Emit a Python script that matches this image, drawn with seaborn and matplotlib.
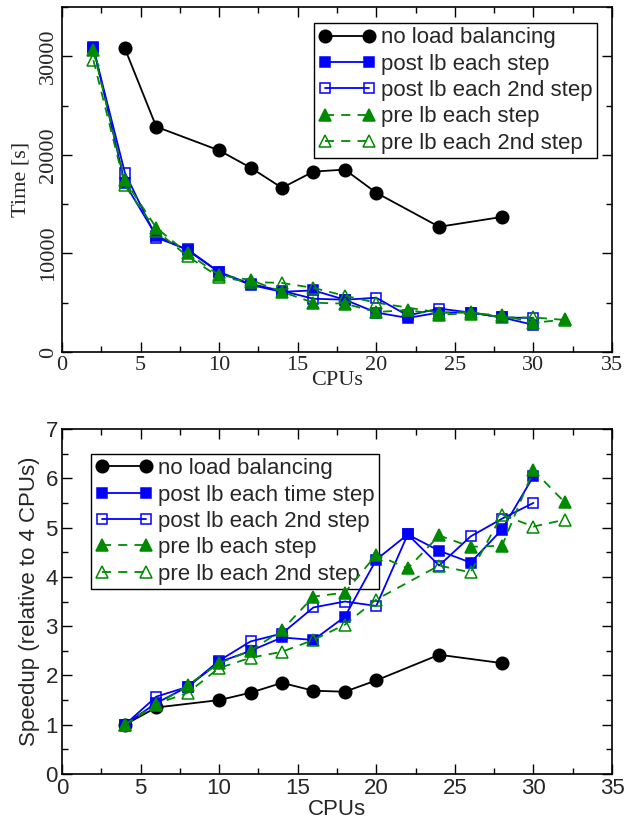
import matplotlib
matplotlib.use("Agg")
import matplotlib.pyplot as plt
import seaborn as sns
from matplotlib.ticker import MultipleLocator

# --- top panel: wall clock time ---
cpus_nolb = [4, 6, 10, 12, 14, 16, 18, 20, 24, 28]
time_nolb = [30800, 22850, 20450, 18700, 16650, 18300, 18500, 16150, 12700, 13700]

cpus_post = [2, 4, 6, 8, 10, 12, 14, 16, 18, 20, 22, 24, 26, 28, 30]
time_post = [30900, 17100, 11800, 10300, 8100, 6800, 6100, 6250, 5300, 4000, 3450, 4000, 4000, 3500, 2750]
time_post2 = [30800, 18200, 11600, 10400, 8100, 6900, 6200, 5400, 5300, 5500, 3700, 4400, 4000, 3500, 3450]

cpus_pre = [2, 4, 6, 8, 10, 12, 14, 16, 18, 20, 22, 24, 26, 28, 30, 32]
time_pre = [30600, 17400, 12600, 10000, 7800, 7300, 6100, 5000, 4900, 4050, 4250, 3800, 3900, 3750, 2950, 3300]

cpus_pre2 = [2, 4, 6, 8, 10, 12, 14, 16, 18, 20, 24, 26, 28, 30, 32]
time_pre2 = [29600, 16900, 12300, 9700, 7600, 7100, 7000, 6500, 5700, 5000, 4000, 4050, 3500, 3500, 3250]

# --- bottom panel: speedup ---
cpus_s_nolb = [4, 6, 10, 12, 14, 16, 18, 20, 24, 28]
speed_nolb = [1.0, 1.35, 1.5, 1.65, 1.85, 1.69, 1.67, 1.9, 2.42, 2.25]

cpus_s_post = [4, 6, 8, 10, 12, 14, 16, 18, 20, 22, 24, 26, 28, 30]
speed_post = [1.0, 1.44, 1.77, 2.27, 2.5, 2.77, 2.72, 3.19, 4.35, 4.86, 4.53, 4.29, 4.96, 6.04]
speed_post2 = [1.0, 1.57, 1.77, 2.3, 2.69, 2.85, 3.38, 3.5, 3.41, 4.86, 4.23, 4.82, 5.18, 5.5]

cpus_s_pre = [4, 6, 8, 10, 12, 14, 16, 18, 20, 22, 24, 26, 28, 30, 32]
speed_pre = [1.0, 1.4, 1.8, 2.25, 2.5, 2.92, 3.6, 3.68, 4.45, 4.17, 4.84, 4.61, 4.63, 6.16, 5.51]

cpus_s_pre2 = [4, 6, 8, 10, 12, 14, 16, 18, 20, 24, 26, 28, 30, 32]
speed_pre2 = [1.0, 1.42, 1.65, 2.15, 2.36, 2.48, 2.72, 3.03, 3.54, 4.23, 4.09, 5.26, 5.02, 5.16]

sns.set_theme(style="ticks")
plt.rcParams["font.family"] = ["Liberation Sans", "DejaVu Sans"]

BLUE = "#0000ff"
GREEN = "#008a00"

fig = plt.figure(figsize=(6.35, 8.21), dpi=100)
ax1 = fig.add_axes([0.0976, 0.5713, 0.8662, 0.4202])
ax2 = fig.add_axes([0.0976, 0.0572, 0.8662, 0.4203])


def draw(ax, x, y, label, color, marker, filled, dashed, ms):
    sns.lineplot(
        x=x, y=y, ax=ax, label=label, color=color,
        marker=marker, markersize=ms,
        markerfacecolor=color if filled else "none",
        markeredgecolor=color, markeredgewidth=1.1,
        linewidth=1.3, linestyle=(0, (5, 4)) if dashed else "-",
        sort=False, errorbar=None,
    )


def style_axes(ax, family, ymax, ymajor, yminor):
    ax.set_xlim(0, 35)
    ax.set_ylim(0, ymax)
    ax.xaxis.set_major_locator(MultipleLocator(5))
    ax.xaxis.set_minor_locator(MultipleLocator(2.5))
    ax.yaxis.set_major_locator(MultipleLocator(ymajor))
    ax.yaxis.set_minor_locator(MultipleLocator(yminor))
    ax.tick_params(which="both", direction="in", top=True, right=True,
                   color="black", width=1.0)
    ax.tick_params(which="major", length=7, labelsize=16, pad=3)
    ax.tick_params(which="minor", length=4)
    for lab in ax.get_xticklabels() + ax.get_yticklabels():
        lab.set_family(family)
    for s in ax.spines.values():
        s.set_color("black")
        s.set_linewidth(1.2)


legend_opts = dict(numpoints=2, fontsize=16, frameon=True, fancybox=False,
                   edgecolor="black", framealpha=1, labelspacing=0.24,
                   handlelength=2.55, handletextpad=0.25, borderpad=0.2)

# top panel
draw(ax1, cpus_nolb, time_nolb, "no load balancing", "black", "o", True, False, 9)
draw(ax1, cpus_post, time_post, "post lb each step", BLUE, "s", True, False, 7.5)
draw(ax1, cpus_post, time_post2, "post lb each 2nd step", BLUE, "s", False, False, 7.5)
draw(ax1, cpus_pre, time_pre, "pre lb each step", GREEN, "^", True, True, 8.5)
draw(ax1, cpus_pre2, time_pre2, "pre lb each 2nd step", GREEN, "^", False, True, 8.5)

style_axes(ax1, ["Liberation Serif"], 35000, 10000, 5000)
for lab in ax1.get_yticklabels():
    lab.set_rotation(90)
    lab.set_va("center")
ax1.set_xlabel("CPUs", family=["Liberation Serif"], fontsize=16, labelpad=-3)
ax1.set_ylabel("Time [s]", family=["Liberation Serif"], fontsize=16, labelpad=6)
leg1 = ax1.legend(loc="upper right", bbox_to_anchor=(0.9727, 0.954),
                  borderaxespad=0, **legend_opts)
leg1.get_frame().set_linewidth(1.0)
leg1.set_zorder(1.5)

# bottom panel
draw(ax2, cpus_s_nolb, speed_nolb, "no load balancing", "black", "o", True, False, 9)
draw(ax2, cpus_s_post, speed_post, "post lb each time step", BLUE, "s", True, False, 7.5)
draw(ax2, cpus_s_post, speed_post2, "post lb each 2nd step", BLUE, "s", False, False, 7.5)
draw(ax2, cpus_s_pre, speed_pre, "pre lb each step", GREEN, "^", True, True, 8.5)
draw(ax2, cpus_s_pre2, speed_pre2, "pre lb each 2nd step", GREEN, "^", False, True, 8.5)

style_axes(ax2, ["Liberation Sans"], 7, 1, 0.5)
ax2.set_xlabel("CPUs", fontsize=16, labelpad=0)
ax2.set_ylabel("Speedup (relative to 4 CPUs)", fontsize=16, labelpad=4)
leg2 = ax2.legend(loc="upper left", bbox_to_anchor=(0.053, 0.928),
                  borderaxespad=0, **legend_opts)
leg2.get_frame().set_linewidth(1.0)
leg2.set_zorder(1.5)

fig.savefig("out.png", dpi=100)
